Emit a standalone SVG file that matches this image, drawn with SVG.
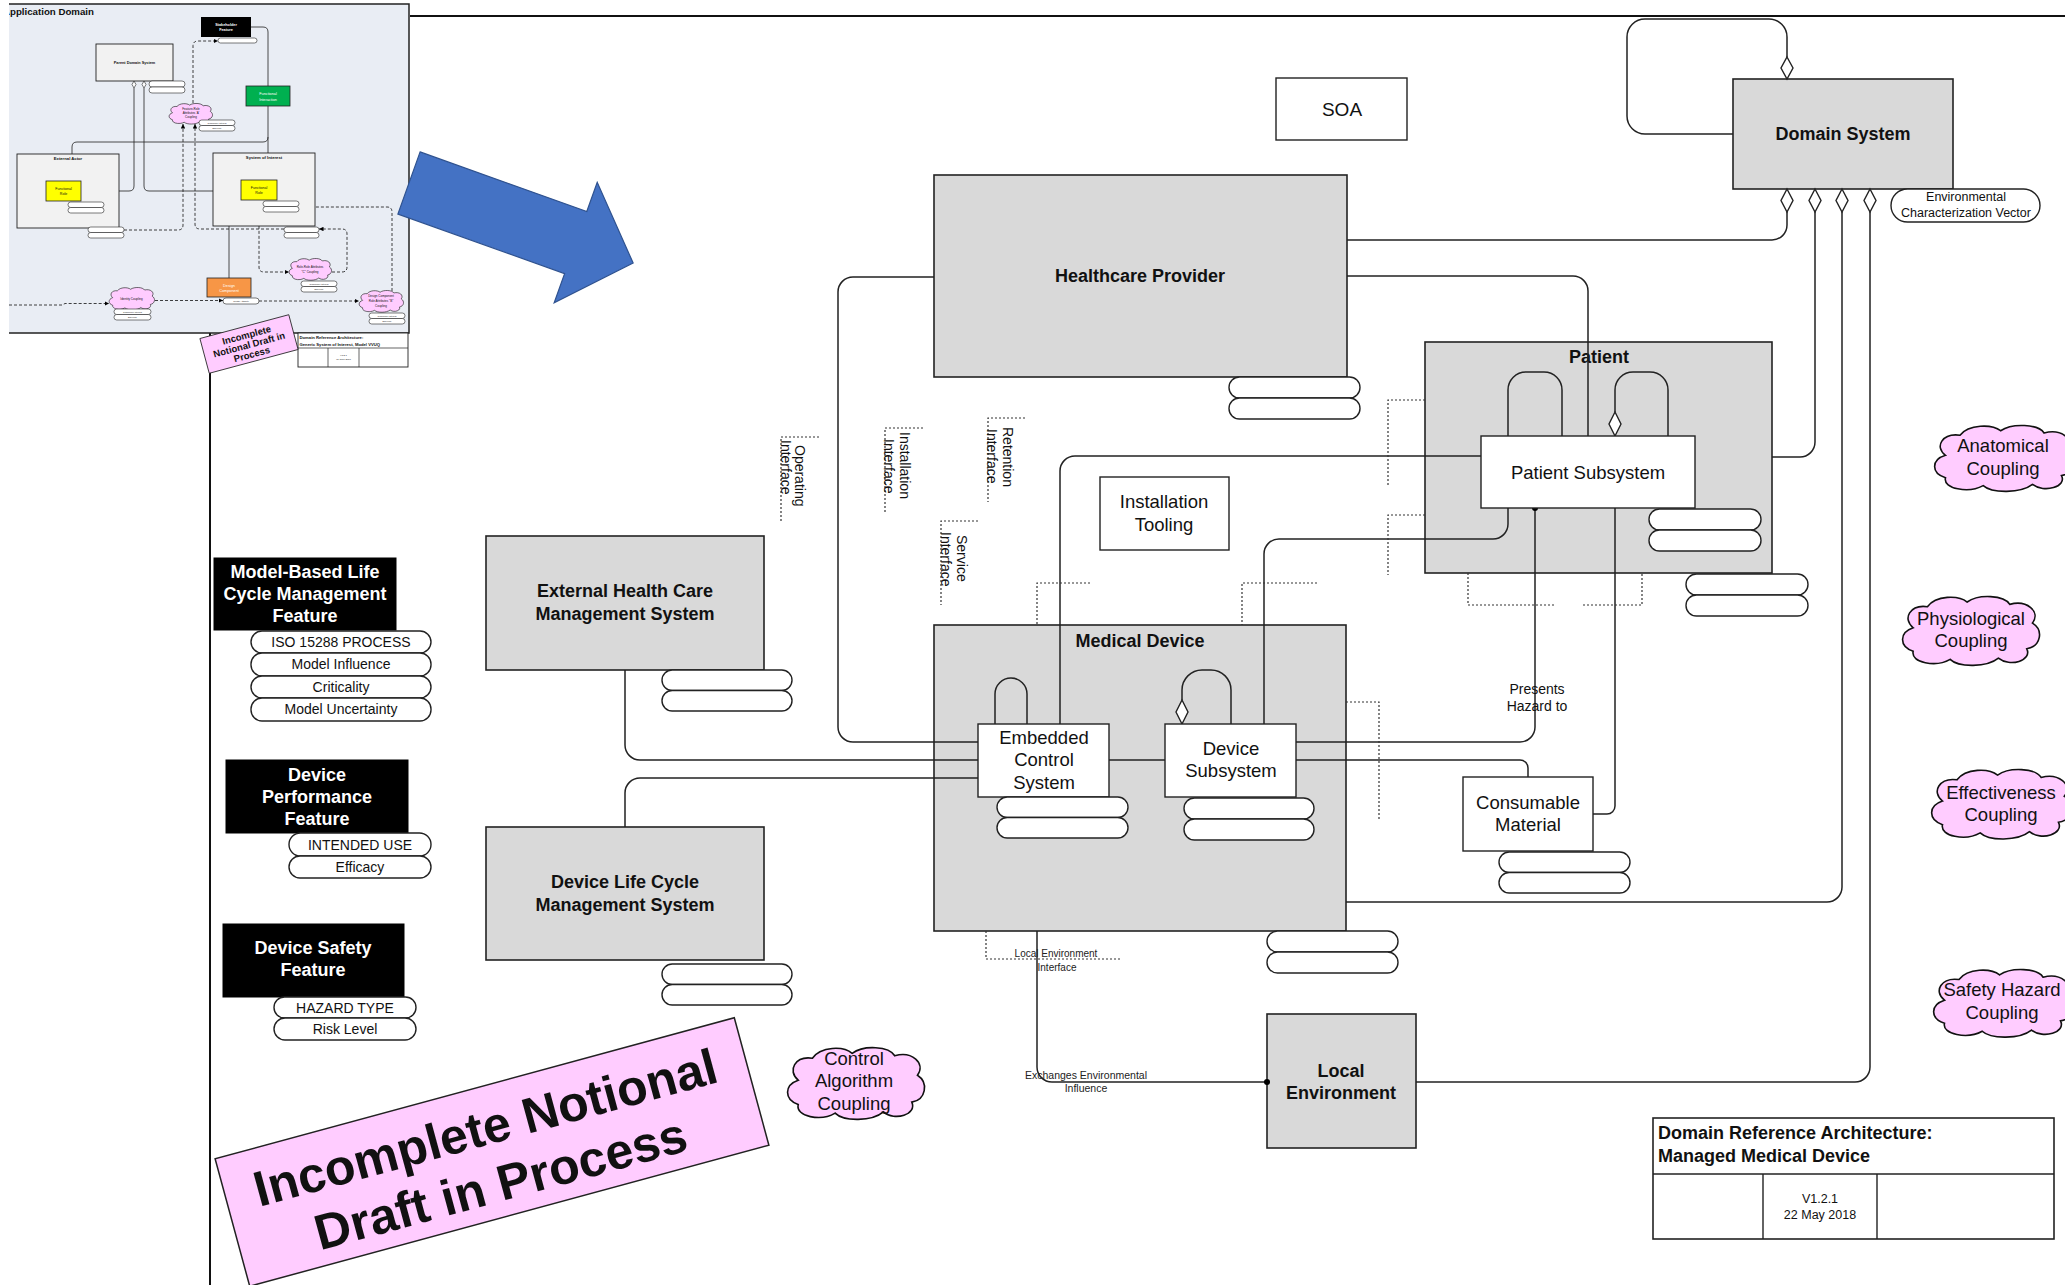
<svg xmlns="http://www.w3.org/2000/svg" xmlns:xlink="http://www.w3.org/1999/xlink" width="2065" height="1285" viewBox="0 0 2065 1285">
<style>
  text { font-family: "Liberation Sans", Arial, sans-serif; fill: #111; }
  .box { fill: #d9d9d9; stroke: #222; stroke-width: 1.6; }
  .wbox { fill: #fff; stroke: #222; stroke-width: 1.4; }
  .blk { fill: #000; stroke: #000; }
  .pill { fill: #fff; stroke: #222; stroke-width: 1.4; }
  .ln { fill: none; stroke: #222; stroke-width: 1.5; }
  .dot { fill: none; stroke: #333; stroke-width: 1.2; stroke-dasharray: 2 2; }
  .dia { fill: #fff; stroke: #222; stroke-width: 1.4; }
  .cloud { fill: #ffccff; stroke: #111; stroke-width: 1.6; }
  .b18 { font-size: 18px; font-weight: bold; text-anchor: middle; }
  .r18 { font-size: 18.5px; text-anchor: middle; }
  .r19 { font-size: 19px; text-anchor: middle; }
  .w17 { font-size: 18px; font-weight: bold; fill: #fff; text-anchor: middle; }
  .p14 { font-size: 14px; text-anchor: middle; }
  .s14 { font-size: 14px; }
  .s10 { font-size: 10.5px; text-anchor: middle; fill: #222; }
  /* miniature drawing */
  .mbg { fill: #e9edf4; stroke: #222; stroke-width: 1.5; }
  .mbox { fill: #f2f2f2; stroke: #222; stroke-width: 0.9; }
  .mln { fill: none; stroke: #222; stroke-width: 0.8; }
  .mdash { fill: none; stroke: #111; stroke-width: 0.8; stroke-dasharray: 3 2; }
  .mpill { fill: #fff; stroke: #222; stroke-width: 0.6; }
  .mt { font-size: 3.6px; text-anchor: middle; }
  .mtb { font-size: 4.2px; font-weight: bold; text-anchor: middle; }
  .mtw { font-size: 3.8px; font-weight: bold; text-anchor: middle; fill: #fff; }
  .mtp { font-size: 2.2px; text-anchor: middle; }
</style>
<defs>
  <path id="cloudShape" d="M10,28 C2,20 8,8 20,10 C26,0 42,0 48,6 C56,-1 74,0 78,8 C90,4 100,14 94,24 C102,30 100,44 90,46 C94,56 78,62 70,54 C62,62 42,62 36,55 C26,62 8,58 10,48 C0,44 0,32 10,28 Z" vector-effect="non-scaling-stroke"/>
  <marker id="ah" viewBox="0 0 10 10" refX="10" refY="5" markerWidth="4.5" markerHeight="4.5" orient="auto" markerUnits="userSpaceOnUse">
    <path d="M0,0 L10,5 L0,10 z" fill="#000"/>
  </marker>
  <clipPath id="insetClip"><rect x="9" y="3" width="403" height="332"/></clipPath>
</defs>

<rect width="2065" height="1285" fill="#fff"/>

<!-- drawing frame -->
<g id="frame" fill="none" stroke="#111" stroke-width="2">
  <line x1="410" y1="16" x2="2065" y2="16"/>
  <line x1="210" y1="333" x2="210" y2="1285"/>
</g>

<!-- miniature of the generic system-of-interest model -->
<g id="inset">
  <g clip-path="url(#insetClip)">
    <rect class="mbg" x="5" y="4" width="404" height="329"/>
    <text x="3" y="15" style="font-size:9.7px;font-weight:bold">Application Domain</text>

    <g id="m-connectors">
      <path class="mln" d="M251,27 H263 Q268,27 268,32 V86"/>
      <path class="mln" d="M268,106 V180"/>
      <path class="mln" d="M268,137 Q268,142 263,142 H77 Q72,142 72,147 V181"/>
      <path class="mln" d="M134,88 V186 Q134,191 129,191 H119"/>
      <path class="mln" d="M144,88 V186 Q144,191 149,191 H213"/>
      <path class="mln" d="M229,278 V195 Q229,190 234,190 H241"/>
      <path class="mln" d="M49,181 V171 Q49,166 54,166 Q59,166 59,171 V181"/>
      <path class="mln" d="M244,180 V170 Q244,165 250,165 Q256,165 256,170 V180"/>
      <path class="dia" style="stroke-width:0.6" d="M49,173 L51,177 L49,181 L47,177 Z"/>
      <path class="dia" style="stroke-width:0.6" d="M244,172 L246,176 L244,180 L242,176 Z"/>
      <path class="dia" style="stroke-width:0.6" d="M134,81 L136,84.5 L134,88 L132,84.5 Z"/>
      <path class="dia" style="stroke-width:0.6" d="M144,81 L146,84.5 L144,88 L142,84.5 Z"/>

      <path class="mdash" d="M193,103 V46 Q193,41 198,41 H218" marker-end="url(#ah)"/>
      <path class="mdash" d="M124,230 H178 Q183,230 183,225 V124" marker-end="url(#ah)"/>
      <path class="mdash" d="M284,229 H200 Q195,229 195,224 V124" marker-end="url(#ah)"/>
      <path class="mdash" d="M9,305 H62 L65,303.5 H109" marker-end="url(#ah)"/>
      <path class="mdash" d="M155,300.5 H223" marker-end="url(#ah)"/>
      <path class="mdash" d="M259,301 H359" marker-end="url(#ah)"/>
      <path class="mdash" d="M392,291 V212 Q392,207 387,207 H299" marker-end="url(#ah)"/>
      <path class="mdash" d="M332,272 H342 Q347,272 347,267 V234 Q347,229 342,229 H319" marker-end="url(#ah)"/>
      <path class="mdash" d="M263,208 Q259,208 259,213 V267 Q259,272 264,272 H289" marker-end="url(#ah)"/>
    </g>

    <g id="m-stakeholder">
      <rect x="201" y="17" width="50" height="20" fill="#000"/>
      <text class="mtw" x="226" y="26">Stakeholder</text>
      <text class="mtw" x="226" y="31">Feature</text>
      <rect class="mpill" x="218" y="38" width="39" height="5" rx="2.5"/>
    </g>
    <g id="m-parent">
      <rect class="mbox" x="96" y="44" width="77" height="37"/>
      <text class="mtb" x="134.5" y="63.5" style="font-size:3.8px">Parent Domain System</text>
      <rect class="mpill" x="149" y="81" width="36" height="6" rx="3"/>
      <rect class="mpill" x="149" y="87" width="36" height="6" rx="3"/>
    </g>
    <g id="m-interaction">
      <rect x="246" y="86" width="44" height="20" fill="#00b050" stroke="#222" stroke-width="0.8"/>
      <text class="mtw" x="268" y="95" style="font-weight:normal">Functional</text>
      <text class="mtw" x="268" y="100.5" style="font-weight:normal">Interaction</text>
    </g>
    <g id="m-cloud-a">
      <use href="#cloudShape" class="cloud" style="stroke-width:0.6" transform="translate(168,103) scale(0.45,0.35)"/>
      <text class="mt" x="191" y="110" style="font-size:3px">Feature-Role</text>
      <text class="mt" x="191" y="114" style="font-size:3px">Attributes 'A'</text>
      <text class="mt" x="191" y="118" style="font-size:3px">Coupling</text>
      <rect class="mpill" x="199" y="120" width="36" height="5.5" rx="2.7"/>
      <rect class="mpill" x="199" y="125.5" width="36" height="5.5" rx="2.7"/>
      <text class="mtp" x="217" y="123.5">Confidence Interval</text>
      <text class="mtp" x="217" y="129">Envelope</text>
    </g>
    <g id="m-actor">
      <rect class="mbox" x="17" y="154" width="102" height="74"/>
      <text class="mtb" x="68" y="160">External Actor</text>
      <rect x="46" y="181" width="35" height="20" fill="#ffff00" stroke="#222" stroke-width="0.8"/>
      <text class="mt" x="63.5" y="190">Functional</text>
      <text class="mt" x="63.5" y="195">Role</text>
      <rect class="mpill" x="68" y="202" width="36" height="5.5" rx="2.7"/>
      <rect class="mpill" x="68" y="207.5" width="36" height="5.5" rx="2.7"/>
      <rect class="mpill" x="88" y="227" width="36" height="5.5" rx="2.7"/>
      <rect class="mpill" x="88" y="232.5" width="36" height="5.5" rx="2.7"/>
    </g>
    <g id="m-soi">
      <rect class="mbox" x="213" y="153" width="102" height="73"/>
      <text class="mtb" x="264" y="159">System of Interest</text>
      <rect x="241" y="180" width="36" height="20" fill="#ffff00" stroke="#222" stroke-width="0.8"/>
      <text class="mt" x="259" y="189">Functional</text>
      <text class="mt" x="259" y="194">Role</text>
      <rect class="mpill" x="263" y="201" width="36" height="5.5" rx="2.7"/>
      <rect class="mpill" x="263" y="206.5" width="36" height="5.5" rx="2.7"/>
      <rect class="mpill" x="284" y="227" width="35" height="5.5" rx="2.7"/>
      <rect class="mpill" x="284" y="232.5" width="35" height="5.5" rx="2.7"/>
    </g>
    <g id="m-cloud-c">
      <use href="#cloudShape" class="cloud" style="stroke-width:0.6" transform="translate(288,258) scale(0.44,0.37)"/>
      <text class="mt" x="310" y="268" style="font-size:3px">Role-Role Attributes</text>
      <text class="mt" x="310" y="273" style="font-size:3px">"C" Coupling</text>
      <rect class="mpill" x="301" y="281" width="36" height="5.5" rx="2.7"/>
      <rect class="mpill" x="301" y="286.5" width="36" height="5.5" rx="2.7"/>
      <text class="mtp" x="319" y="284.5">Confidence Interval</text>
      <text class="mtp" x="319" y="290">Envelope</text>
    </g>
    <g id="m-design">
      <rect x="207" y="278" width="44" height="19" fill="#f79646" stroke="#222" stroke-width="0.8"/>
      <text class="mtw" x="229" y="286.5" style="font-weight:normal">Design</text>
      <text class="mtw" x="229" y="292" style="font-weight:normal">Component</text>
      <rect class="mpill" x="223" y="298" width="36" height="6" rx="3"/>
      <text class="mtp" x="241" y="301.8">Identity Attribute</text>
    </g>
    <g id="m-cloud-id">
      <use href="#cloudShape" class="cloud" style="stroke-width:0.6" transform="translate(108,287) scale(0.47,0.38)"/>
      <text class="mt" x="131.5" y="300" style="font-size:3px">Identity Coupling</text>
      <rect class="mpill" x="114" y="309" width="37" height="5.5" rx="2.7"/>
      <rect class="mpill" x="114" y="314.5" width="37" height="5.5" rx="2.7"/>
      <text class="mtp" x="132.5" y="312.5">Confidence Interval</text>
      <text class="mtp" x="132.5" y="318">Envelope</text>
    </g>
    <g id="m-cloud-b">
      <use href="#cloudShape" class="cloud" style="stroke-width:0.6" transform="translate(358,290) scale(0.46,0.37)"/>
      <text class="mt" x="381" y="297" style="font-size:3px">Design Component</text>
      <text class="mt" x="381" y="302" style="font-size:3px">Role Attributes "B"</text>
      <text class="mt" x="381" y="307" style="font-size:3px">Coupling</text>
      <rect class="mpill" x="369" y="313" width="36" height="5.5" rx="2.7"/>
      <rect class="mpill" x="369" y="318.5" width="36" height="5.5" rx="2.7"/>
      <text class="mtp" x="387" y="316.5">Confidence Interval</text>
      <text class="mtp" x="387" y="322">Envelope</text>
    </g>
  </g>

  <g id="m-title">
    <rect x="298" y="333" width="110" height="34" fill="#fff" stroke="#222" stroke-width="0.9"/>
    <line x1="298" y1="348" x2="408" y2="348" stroke="#222" stroke-width="0.7"/>
    <line x1="328" y1="348" x2="328" y2="367" stroke="#222" stroke-width="0.7"/>
    <line x1="359" y1="348" x2="359" y2="367" stroke="#222" stroke-width="0.7"/>
    <text x="299.5" y="339" style="font-size:4.2px;font-weight:bold">Domain Reference Architecture:</text>
    <text x="299.5" y="345.5" style="font-size:4.2px;font-weight:bold">Generic System of Interest, Model VVUQ</text>
    <text class="mtp" x="343.5" y="356" style="font-size:2.4px">V1.2.1</text>
    <text class="mtp" x="343.5" y="360" style="font-size:2.4px">06 June 2018</text>
  </g>
  <g id="m-stamp" transform="translate(249,344) rotate(-15)">
    <rect x="-46" y="-18" width="92" height="36" fill="#ffccff" stroke="#222" stroke-width="0.8"/>
    <text x="0" y="-6" style="font-size:9.5px;font-weight:bold;text-anchor:middle">Incomplete</text>
    <text x="0" y="4" style="font-size:9.5px;font-weight:bold;text-anchor:middle">Notional Draft in</text>
    <text x="0" y="14" style="font-size:9.5px;font-weight:bold;text-anchor:middle">Process</text>
  </g>
</g>

<!-- block arrow leading from the miniature into the domain model -->
<g id="zoom-arrow" transform="translate(409,183) rotate(19.65)">
  <polygon points="0,-33 177,-33 177,-64 238,0 177,64 177,33 0,33" fill="#4472c4" stroke="#2f528f" stroke-width="1.2"/>
</g>

<!-- outer systems (drawn beneath the connectors that run through them) -->
<g id="soa">
  <rect class="wbox" x="1276" y="78" width="131" height="62"/>
  <text class="r19" x="1342" y="116">SOA</text>
</g>

<g id="domain-system">
  <rect class="box" x="1733" y="79" width="220" height="110"/>
  <text class="b18" x="1843" y="140">Domain System</text>
</g>
<g id="env-vector">
  <rect class="pill" x="1891" y="189" width="149" height="33" rx="16.5"/>
  <text x="1966" y="201" style="font-size:12.5px;text-anchor:middle">Environmental</text>
  <text x="1966" y="217" style="font-size:12.5px;text-anchor:middle">Characterization Vector</text>
</g>

<g id="healthcare-provider">
  <rect class="box" x="934" y="175" width="413" height="202"/>
  <text class="b18" x="1140" y="282">Healthcare Provider</text>
  <rect class="pill" x="1229" y="377" width="131" height="21" rx="10.5"/>
  <rect class="pill" x="1229" y="398" width="131" height="21" rx="10.5"/>
</g>

<g id="patient">
  <rect class="box" x="1425" y="342" width="347" height="231"/>
  <text class="b18" x="1599" y="363">Patient</text>
  <rect class="pill" x="1686" y="574" width="122" height="21" rx="10.5"/>
  <rect class="pill" x="1686" y="595" width="122" height="21" rx="10.5"/>
</g>

<g id="ext-health-mgmt">
  <rect class="box" x="486" y="536" width="278" height="134"/>
  <text class="b18" x="625" y="597">External Health Care</text>
  <text class="b18" x="625" y="620">Management System</text>
  <rect class="pill" x="662" y="670" width="130" height="20.5" rx="10.2"/>
  <rect class="pill" x="662" y="690.5" width="130" height="20.5" rx="10.2"/>
</g>

<g id="device-lifecycle-mgmt">
  <rect class="box" x="486" y="827" width="278" height="133"/>
  <text class="b18" x="625" y="888">Device Life Cycle</text>
  <text class="b18" x="625" y="911">Management System</text>
  <rect class="pill" x="662" y="964" width="130" height="20.5" rx="10.2"/>
  <rect class="pill" x="662" y="984.5" width="130" height="20.5" rx="10.2"/>
</g>

<g id="medical-device">
  <rect class="box" x="934" y="625" width="412" height="306"/>
  <text class="b18" x="1140" y="647">Medical Device</text>
  <rect class="pill" x="1267" y="931" width="131" height="21" rx="10.5"/>
  <rect class="pill" x="1267" y="952" width="131" height="21" rx="10.5"/>
</g>

<g id="local-environment">
  <rect class="box" x="1267" y="1014" width="149" height="134"/>
  <text class="b18" x="1341" y="1077">Local</text>
  <text class="b18" x="1341" y="1099">Environment</text>
</g>

<!-- connectors -->
<g id="connectors">
  <!-- Domain System aggregation -->
  <path class="ln" d="M1733,134 H1645 A18,18 0 0 1 1627,116 V37 A18,18 0 0 1 1645,19 H1769 A18,18 0 0 1 1787,37 V57"/>
  <path class="ln" d="M1787,212 V225 A15,15 0 0 1 1772,240 H1347"/>
  <path class="ln" d="M1815,212 V442 A15,15 0 0 1 1800,457 H1772"/>
  <path class="ln" d="M1842,212 V887 A15,15 0 0 1 1827,902 H1346"/>
  <path class="ln" d="M1870,212 V1067 A15,15 0 0 1 1855,1082 H1416"/>
  <path class="dia" d="M1787,57 L1793,68 L1787,79 L1781,68 Z"/>
  <path class="dia" d="M1787,189 L1793,200.5 L1787,212 L1781,200.5 Z"/>
  <path class="dia" d="M1815,189 L1821,200.5 L1815,212 L1809,200.5 Z"/>
  <path class="dia" d="M1842,189 L1848,200.5 L1842,212 L1836,200.5 Z"/>
  <path class="dia" d="M1870,189 L1876,200.5 L1870,212 L1864,200.5 Z"/>

  <!-- Healthcare Provider links -->
  <path class="ln" d="M1347,276 H1573 A15,15 0 0 1 1588,291 V436"/>
  <path class="ln" d="M934,277 H853 A15,15 0 0 0 838,292 V727 A15,15 0 0 0 853,742 H978"/>

  <!-- management systems to embedded control -->
  <path class="ln" d="M625,670 V745 A15,15 0 0 0 640,760 H978"/>
  <path class="ln" d="M625,827 V793 A15,15 0 0 1 640,778 H978"/>
  <path class="ln" d="M1109,760 H1165"/>

  <!-- device to patient -->
  <path class="ln" d="M1060,724 V471 A15,15 0 0 1 1075,456 H1481"/>
  <path class="ln" d="M1508,508 V524 A15,15 0 0 1 1493,539 H1279 A15,15 0 0 0 1264,554 V724"/>
  <path class="ln" d="M1535,508 V727 A15,15 0 0 1 1520,742 H1296"/>
  <circle cx="1535" cy="508" r="3" fill="#000"/>
  <path class="ln" d="M1296,760 H1520 A8,8 0 0 1 1528,768 V777"/>
  <path class="ln" d="M1615,508 V806 A8,8 0 0 1 1607,814 H1593"/>

  <!-- self associations -->
  <path class="ln" d="M1508,436 V390 A18,18 0 0 1 1526,372 H1544 A18,18 0 0 1 1562,390 V436"/>
  <path class="ln" d="M1615,412 V390 A18,18 0 0 1 1633,372 H1650 A18,18 0 0 1 1668,390 V436"/>
  <path class="dia" d="M1615,412 L1621,424 L1615,436 L1609,424 Z"/>
  <path class="ln" d="M995,724 V694 A16,16 0 0 1 1027,694 V724"/>
  <path class="ln" d="M1182,700 V690 A20,20 0 0 1 1202,670 H1211 A20,20 0 0 1 1231,690 V724"/>
  <path class="dia" d="M1182,700 L1188,712 L1182,724 L1176,712 Z"/>

  <!-- local environment -->
  <path class="ln" d="M1037,931 V1067 A15,15 0 0 0 1052,1082 H1267"/>
  <circle cx="1267" cy="1082" r="3" fill="#000"/>

  <!-- interface callouts -->
  <path class="dot" d="M819,437 H781 V522"/>
  <path class="dot" d="M923,428 H885 V512"/>
  <path class="dot" d="M1025,418 H988 V502"/>
  <path class="dot" d="M978,521 H941 V605"/>
  <path class="dot" d="M1090,583 H1037 V625"/>
  <path class="dot" d="M1317,583 H1242 V625"/>
  <path class="dot" d="M1425,400 H1388 V487"/>
  <path class="dot" d="M1425,515 H1388 V575"/>
  <path class="dot" d="M1468,573 V605 H1554"/>
  <path class="dot" d="M1583,605 H1642 V573"/>
  <path class="dot" d="M1346,702 H1379 V820"/>
  <path class="dot" d="M986,931 V959 H1120"/>

  <g class="s14">
    <text transform="translate(795,445) rotate(90)">Operating</text>
    <text transform="translate(781,440) rotate(90)">Interface</text>
    <text transform="translate(900,432) rotate(90)">Installation</text>
    <text transform="translate(884,439) rotate(90)">Interface</text>
    <text transform="translate(1003,427) rotate(90)">Retention</text>
    <text transform="translate(987,429) rotate(90)">Interface</text>
    <text transform="translate(957,535) rotate(90)">Service</text>
    <text transform="translate(941,532) rotate(90)">Interface</text>
  </g>
  <text class="p14" x="1537" y="694">Presents</text>
  <text class="p14" x="1537" y="711">Hazard to</text>
  <text class="s10" x="1056" y="957" style="font-size:10px">Local Environment</text>
  <text class="s10" x="1057" y="971" style="font-size:10px">Interface</text>
  <text class="s10" x="1086" y="1079">Exchanges Environmental</text>
  <text class="s10" x="1086" y="1092">Influence</text>
</g>

<!-- inner parts -->
<g id="patient-subsystem">
  <rect class="wbox" x="1481" y="436" width="214" height="72"/>
  <text class="r18" x="1588" y="479">Patient Subsystem</text>
  <rect class="pill" x="1649" y="509" width="112" height="21" rx="10.5"/>
  <rect class="pill" x="1649" y="530" width="112" height="21" rx="10.5"/>
</g>

<g id="installation-tooling">
  <rect class="wbox" x="1100" y="477" width="129" height="73"/>
  <text class="r18" x="1164" y="508">Installation</text>
  <text class="r18" x="1164" y="531">Tooling</text>
</g>

<g id="embedded-control">
  <rect class="wbox" x="978" y="724" width="131" height="73"/>
  <text class="r18" x="1044" y="744">Embedded</text>
  <text class="r18" x="1044" y="766">Control</text>
  <text class="r18" x="1044" y="789">System</text>
  <rect class="pill" x="997" y="797" width="131" height="20.5" rx="10.2"/>
  <rect class="pill" x="997" y="817.5" width="131" height="20.5" rx="10.2"/>
</g>
<g id="device-subsystem">
  <rect class="wbox" x="1165" y="724" width="131" height="73"/>
  <text class="r18" x="1231" y="755">Device</text>
  <text class="r18" x="1231" y="777">Subsystem</text>
  <rect class="pill" x="1184" y="798" width="130" height="21" rx="10.5"/>
  <rect class="pill" x="1184" y="819" width="130" height="21" rx="10.5"/>
</g>

<g id="consumable-material">
  <rect class="wbox" x="1463" y="777" width="130" height="74"/>
  <text class="r18" x="1528" y="809">Consumable</text>
  <text class="r18" x="1528" y="831">Material</text>
  <rect class="pill" x="1499" y="852" width="131" height="20.5" rx="10.2"/>
  <rect class="pill" x="1499" y="872.5" width="131" height="20.5" rx="10.2"/>
</g>

<!-- feature blocks -->
<g id="feature-lifecycle">
  <rect class="blk" x="214" y="558" width="182" height="72"/>
  <text class="w17" x="305" y="578">Model-Based Life</text>
  <text class="w17" x="305" y="600">Cycle Management</text>
  <text class="w17" x="305" y="622">Feature</text>
  <rect class="pill" x="251" y="631" width="180" height="22" rx="11"/>
  <rect class="pill" x="251" y="653" width="180" height="23" rx="11"/>
  <rect class="pill" x="251" y="676" width="180" height="22" rx="11"/>
  <rect class="pill" x="251" y="698" width="180" height="23" rx="11"/>
  <text class="p14" x="341" y="647">ISO 15288 PROCESS</text>
  <text class="p14" x="341" y="669">Model Influence</text>
  <text class="p14" x="341" y="692">Criticality</text>
  <text class="p14" x="341" y="714">Model Uncertainty</text>
</g>
<g id="feature-performance">
  <rect class="blk" x="226" y="760" width="182" height="73"/>
  <text class="w17" x="317" y="781">Device</text>
  <text class="w17" x="317" y="803">Performance</text>
  <text class="w17" x="317" y="825">Feature</text>
  <rect class="pill" x="289" y="833" width="142" height="23" rx="11.5"/>
  <rect class="pill" x="289" y="856" width="142" height="22" rx="11"/>
  <text class="p14" x="360" y="850">INTENDED USE</text>
  <text class="p14" x="360" y="872">Efficacy</text>
</g>
<g id="feature-safety">
  <rect class="blk" x="223" y="924" width="181" height="73"/>
  <text class="w17" x="313" y="954">Device Safety</text>
  <text class="w17" x="313" y="976">Feature</text>
  <rect class="pill" x="274" y="997" width="142" height="21" rx="10.5"/>
  <rect class="pill" x="274" y="1018" width="142" height="22" rx="11"/>
  <text class="p14" x="345" y="1013">HAZARD TYPE</text>
  <text class="p14" x="345" y="1034">Risk Level</text>
</g>

<!-- coupling clouds -->
<g id="cloud-control">
  <use href="#cloudShape" class="cloud" transform="translate(784,1046) scale(1.42,1.22)"/>
  <text class="r18" x="854" y="1065">Control</text>
  <text class="r18" x="854" y="1087">Algorithm</text>
  <text class="r18" x="854" y="1110">Coupling</text>
</g>
<g id="cloud-anatomical">
  <use href="#cloudShape" class="cloud" transform="translate(1931,424) scale(1.45,1.12)"/>
  <text class="r18" x="2003" y="452">Anatomical</text>
  <text class="r18" x="2003" y="475">Coupling</text>
</g>
<g id="cloud-physiological">
  <use href="#cloudShape" class="cloud" transform="translate(1899,595) scale(1.42,1.17)"/>
  <text class="r18" x="1971" y="625">Physiological</text>
  <text class="r18" x="1971" y="647">Coupling</text>
</g>
<g id="cloud-effectiveness">
  <use href="#cloudShape" class="cloud" transform="translate(1928,768) scale(1.45,1.18)"/>
  <text class="r18" x="2001" y="799">Effectiveness</text>
  <text class="r18" x="2001" y="821">Coupling</text>
</g>
<g id="cloud-safety">
  <use href="#cloudShape" class="cloud" transform="translate(1930,968) scale(1.45,1.15)"/>
  <text class="r18" x="2002" y="996">Safety Hazard</text>
  <text class="r18" x="2002" y="1019">Coupling</text>
</g>

<!-- title block -->
<g id="title-block">
  <rect x="1653" y="1118" width="401" height="121" fill="#fff" stroke="#222" stroke-width="1.6"/>
  <line x1="1653" y1="1174" x2="2054" y2="1174" stroke="#222" stroke-width="1.4"/>
  <line x1="1763" y1="1174" x2="1763" y2="1239" stroke="#222" stroke-width="1.4"/>
  <line x1="1877" y1="1174" x2="1877" y2="1239" stroke="#222" stroke-width="1.4"/>
  <text x="1658" y="1139" style="font-size:18px;font-weight:bold">Domain Reference Architecture:</text>
  <text x="1658" y="1162" style="font-size:18px;font-weight:bold">Managed Medical Device</text>
  <text x="1820" y="1203" style="font-size:12.5px;text-anchor:middle">V1.2.1</text>
  <text x="1820" y="1219" style="font-size:12.5px;text-anchor:middle">22 May 2018</text>
</g>

<!-- draft stamp -->
<g id="draft-stamp" transform="translate(492,1152) rotate(-15.2)">
  <rect x="-269" y="-66" width="538" height="132" fill="#ffccff" stroke="#222" stroke-width="1.5"/>
  <text x="0" y="-8" style="font-size:50px;font-weight:bold;text-anchor:middle">Incomplete Notional</text>
  <text x="0" y="50" style="font-size:50px;font-weight:bold;text-anchor:middle">Draft in Process</text>
</g>
</svg>
